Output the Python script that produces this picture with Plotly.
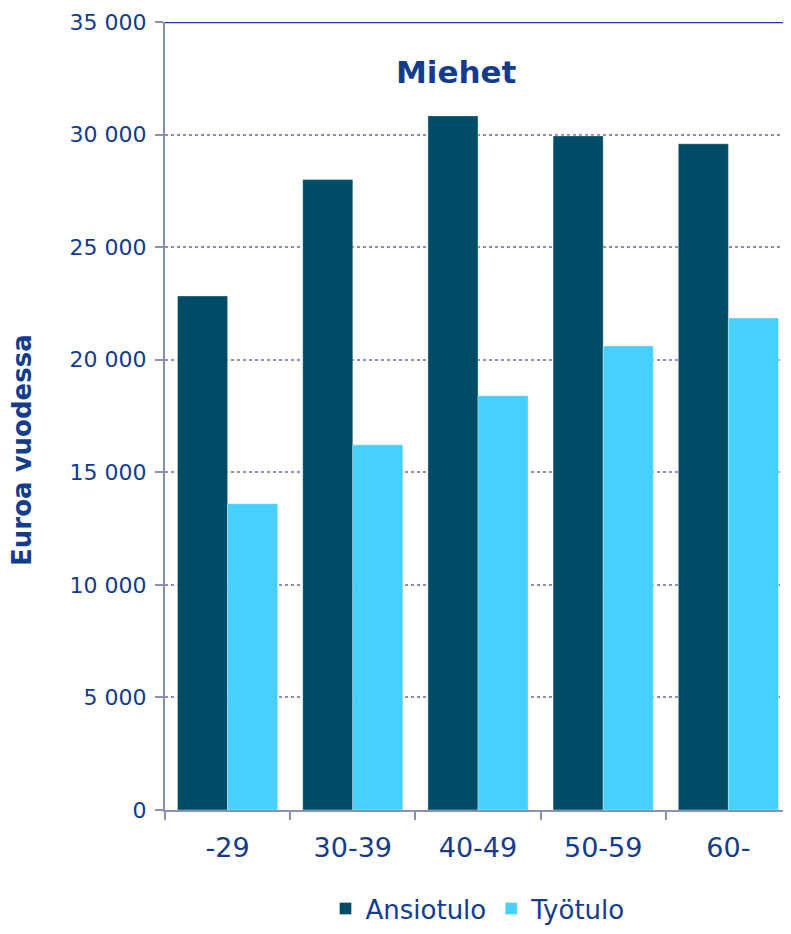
import plotly.graph_objects as go

categories = ["-29", "30-39", "40-49", "50-59", "60-"]
ansiotulo = [22830, 28000, 30830, 29940, 29590]
tyotulo = [13600, 16220, 18400, 20610, 21850]
series_names = ["Ansiotulo", "Työtulo"]
title_text = "Miehet"
y_title = "Euroa vuodessa"

TEXT = "#143c8c"
AXIS = "#8a90b4"
FONT = "Verdana, DejaVu Sans, sans-serif"

fig = go.Figure()
fig.add_trace(go.Bar(x=categories, y=ansiotulo, name=series_names[0],
                     marker=dict(color="#004c66", line=dict(color="rgba(255,255,255,0.35)", width=1))))
fig.add_trace(go.Bar(x=categories, y=tyotulo, name=series_names[1],
                     marker=dict(color="#47cfff", line=dict(color="rgba(255,255,255,0.35)", width=1))))

fig.update_layout(
    width=783, height=926,
    margin=dict(l=157, r=0, t=14, b=124),
    paper_bgcolor="white", plot_bgcolor="white",
    barmode="group", bargap=0.2, bargroupgap=0,
    separators=", ",
    font=dict(family=FONT, color=TEXT),
    showlegend=True,
    legend=dict(orientation="h", x=0.5, xanchor="center", y=-0.155, yanchor="bottom",
                font=dict(size=26, color=TEXT), itemwidth=30, traceorder="normal"),
)
fig.update_yaxes(range=[0, 35000], dtick=5000, tickformat=",d",
                 showgrid=True, gridcolor=AXIS, griddash="dot", gridwidth=1.5,
                 showline=True, linecolor=AXIS, linewidth=2,
                 ticks="outside", ticklen=8, tickcolor=AXIS, tickwidth=2,
                 ticklabelstandoff=4,
                 tickfont=dict(size=22, color=TEXT), zeroline=False)
fig.update_xaxes(showline=True, linecolor=AXIS, linewidth=2,
                 ticks="outside", ticklen=8, tickcolor=AXIS, tickwidth=2,
                 tickson="boundaries", ticklabelstandoff=13,
                 tickfont=dict(size=27, color=TEXT))

fig.add_shape(type="line", xref="paper", yref="y", x0=0, x1=1, y0=35000, y1=35000,
              line=dict(color="#1a3f99", width=2.5))

fig.add_annotation(text="<b>" + title_text + "</b>", xref="paper", yref="paper",
                   x=0.466, y=0.9366, xanchor="center", yanchor="middle",
                   showarrow=False, font=dict(size=31, color=TEXT))
fig.add_annotation(text="<b>" + y_title + "</b>", xref="paper", yref="paper",
                   x=-0.2284, y=0.457, xanchor="center", yanchor="middle",
                   textangle=-90, showarrow=False,
                   font=dict(size=26, color=TEXT))

fig.write_html("out.html")
